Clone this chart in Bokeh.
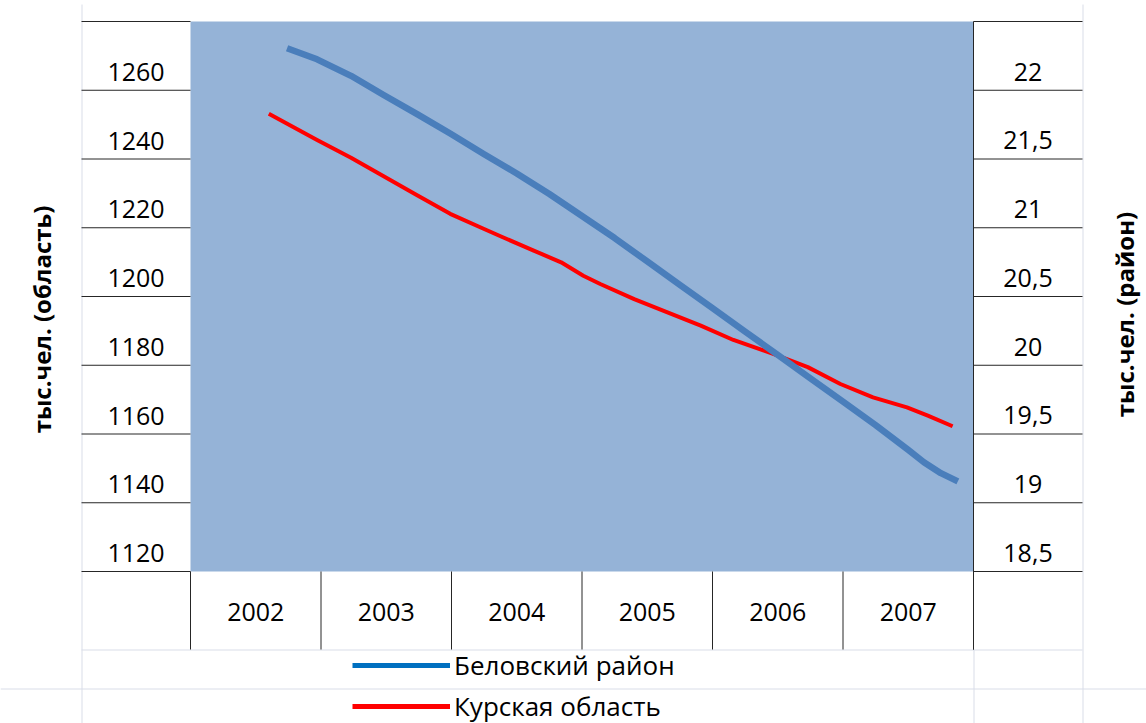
import math
from bokeh.plotting import figure
from bokeh.models import Range1d, Legend, LegendItem
from bokeh.core.properties import value
from bokeh.embed import file_html
from bokeh.resources import INLINE

# ---------------- data ----------------
years = [2002, 2003, 2004, 2005, 2006, 2007]
year_labels = ["2002", "2003", "2004", "2005", "2006", "2007"]

left_ticks = [1120, 1140, 1160, 1180, 1200, 1220, 1240, 1260]
left_labels = ["1120", "1140", "1160", "1180", "1200", "1220", "1240", "1260"]
right_ticks = [18.5, 19, 19.5, 20, 20.5, 21, 21.5, 22]
right_labels = ["18,5", "19", "19,5", "20", "20,5", "21", "21,5", "22"]

series_names = ["Беловский район", "Курская область"]
left_title = "тыс.чел. (область)"
right_title = "тыс.чел. (район)"

# Беловский район (right axis, тыс. чел.)
belov_x = [2002.24, 2002.47, 2002.73, 2002.98, 2003.24, 2003.49, 2003.75, 2004.00,
           2004.25, 2004.50, 2004.75, 2005.00, 2005.25, 2005.50, 2005.75, 2006.00,
           2006.25, 2006.50, 2006.75, 2007.00, 2007.12, 2007.25, 2007.38]
belov_y = [22.17, 22.09, 21.97, 21.83, 21.69, 21.55, 21.40, 21.26,
           21.11, 20.95, 20.79, 20.62, 20.45, 20.28, 20.11, 19.94,
           19.77, 19.60, 19.43, 19.25, 19.16, 19.08, 19.02]

# Курская область (left axis, тыс. чел.)
kursk_x = [2002.10, 2002.47, 2002.73, 2002.98, 2003.24, 2003.49, 2003.75, 2003.88,
           2004.13, 2004.34, 2004.51, 2004.64, 2004.90, 2005.15, 2005.41, 2005.66,
           2005.97, 2006.23, 2006.48, 2006.73, 2006.99, 2007.15, 2007.34]
kursk_y = [1247.8, 1240.2, 1235.0, 1229.6, 1224.0, 1218.7, 1214.3, 1212.1,
           1208.0, 1204.6, 1200.7, 1198.3, 1193.9, 1190.1, 1186.2, 1182.0,
           1177.9, 1174.1, 1169.2, 1165.3, 1162.4, 1160.0, 1156.9]

# ---------------- layout / styling ----------------
W, H = 1146, 723
PLOT_L, PLOT_R, PLOT_T, PLOT_B = 190, 973, 21, 571   # blue plot area (page px)
LEFT_COL_L, RIGHT_COL_R, CAT_B, LEG_B = 81, 1082, 649, 688
FONT = "Open Sans"
CELL = "#262626"
GRID = "#D9DDE8"
PLOT_BG = "#95B3D7"

LEFT_START, LEFT_STEP = 1114.65, 20
RIGHT_START, RIGHT_STEP = 18.365, 0.5
N_CELLS = 8
left_cells = [round(LEFT_START + LEFT_STEP * k, 3) for k in range(N_CELLS + 1)]
right_cells = [round(RIGHT_START + RIGHT_STEP * k, 3) for k in range(N_CELLS + 1)]
year_edges = [y - 0.5 for y in years] + [years[-1] + 0.5]


def span_range(lo, hi, p_lo, p_hi, size, flip=False):
    """Range so that [lo, hi] occupies pixels [p_lo, p_hi] of a canvas of `size`."""
    k = (p_hi - p_lo) / (hi - lo)
    if flip:  # vertical: pixel grows downward
        return Range1d(lo - (size - p_hi) / k, hi + p_lo / k)
    return Range1d(lo - p_lo / k, hi + (size - p_hi) / k)


p = figure(width=W, height=H, output_backend="svg", toolbar_location=None,
           x_range=span_range(year_edges[0], year_edges[-1], PLOT_L, PLOT_R, W),
           y_range=span_range(left_cells[0], left_cells[-1], PLOT_T, PLOT_B, H, flip=True),
           x_axis_location=None, y_axis_location=None, min_border=0)
p.extra_y_ranges = {
    "right": span_range(right_cells[0], right_cells[-1], PLOT_T, PLOT_B, H, flip=True),
    "py": Range1d(H, 0),
}
p.extra_x_ranges = {"px": Range1d(0, W)}
p.background_fill_color = "white"
p.border_fill_color = "white"
p.outline_line_color = None
p.xgrid.visible = False
p.ygrid.visible = False

# spreadsheet gridlines (light)
p.segment(x0=[LEFT_COL_L + 0.5, RIGHT_COL_R + 0.5, PLOT_R + 0.5, LEFT_COL_L, 0],
          x1=[LEFT_COL_L + 0.5, RIGHT_COL_R + 0.5, PLOT_R + 0.5, RIGHT_COL_R, W],
          y0=[4, 4, CAT_B, CAT_B + 0.5, LEG_B + 0.5],
          y1=[H, H, H, CAT_B + 0.5, LEG_B + 0.5],
          x_range_name="px", y_range_name="py", line_color=GRID, line_width=1)

# plot area
p.quad(left=[year_edges[0]], right=[year_edges[-1]],
       bottom=[left_cells[0]], top=[left_cells[-1]],
       fill_color=PLOT_BG, line_color=None)

# cell borders of the value columns
p.segment(x0=LEFT_COL_L, x1=PLOT_L, y0=left_cells, y1=left_cells,
          x_range_name="px", line_color=CELL, line_width=1)
p.segment(x0=PLOT_R, x1=RIGHT_COL_R, y0=left_cells, y1=left_cells,
          x_range_name="px", line_color=CELL, line_width=1)
p.segment(x0=[PLOT_R], x1=[PLOT_R], y0=[PLOT_T], y1=[CAT_B],
          x_range_name="px", y_range_name="py", line_color=CELL, line_width=1)
# category cell borders
p.segment(x0=year_edges, x1=year_edges, y0=PLOT_B, y1=CAT_B,
          y_range_name="py", line_color=CELL, line_width=1)

# tick labels
p.text(x=[(LEFT_COL_L + PLOT_L) / 2] * len(left_ticks), y=left_ticks, text=left_labels,
       x_range_name="px", text_align="center", text_baseline="middle",
       text_font=value(FONT), text_font_size=value("25px"), text_color="black")
p.text(x=[(PLOT_R + RIGHT_COL_R) / 2] * len(right_ticks), y=right_ticks, text=right_labels,
       x_range_name="px", y_range_name="right", text_align="center", text_baseline="middle",
       text_font=value(FONT), text_font_size=value("25px"), text_color="black")
p.text(x=years, y=[611.5] * len(years), text=year_labels,
       y_range_name="py", text_align="center", text_baseline="middle",
       text_font=value(FONT), text_font_size=value("25px"), text_color="black")

# axis titles
p.text(x=[40.8, 1123.5], y=[319, 314], text=[left_title, right_title],
       x_range_name="px", y_range_name="py", angle=math.pi / 2,
       text_align="center", text_baseline="middle", text_font=value(FONT),
       text_font_style="bold", text_font_size=value("24px"), text_color="black")

# series
p.line(kursk_x, kursk_y, line_color="#FF0000", line_width=4, line_join="round")
p.line(belov_x, belov_y, y_range_name="right", line_color="#4A7EBB", line_width=6.5,
       line_join="round")

# legend (sample strokes as in the reference legend)
nan = float("nan")
proxy_b = p.line(x=[nan], y=[nan], line_color="#0070C0", line_width=5)
proxy_r = p.line(x=[nan], y=[nan], line_color="#FF0000", line_width=5)
legend = Legend(items=[LegendItem(label=series_names[0], renderers=[proxy_b]),
                       LegendItem(label=series_names[1], renderers=[proxy_r])],
                location=(352, -1), orientation="vertical",
                glyph_width=98, glyph_height=34, label_height=34, label_standoff=4,
                spacing=5, padding=0, margin=0, border_line_color=None,
                background_fill_alpha=0, label_text_font=FONT,
                label_text_font_size="26px", label_text_color="black")
p.add_layout(legend)

open("out.html", "w").write(file_html(p, INLINE))
